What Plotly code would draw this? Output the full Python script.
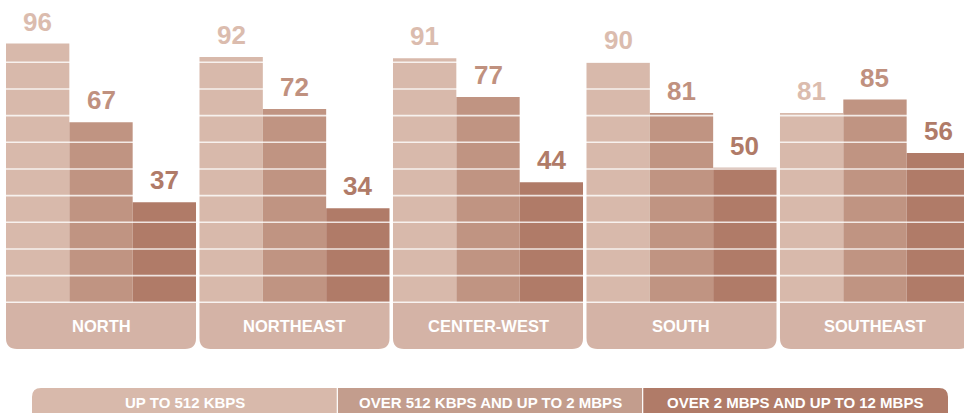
import plotly.graph_objects as go

# ---- data -------------------------------------------------------------
regions = ["NORTH", "NORTHEAST", "CENTER-WEST", "SOUTH", "SOUTHEAST"]
series_names = [
    "UP TO 512 KBPS",
    "OVER 512 KBPS AND UP TO 2 MBPS",
    "OVER 2 MBPS AND UP TO 12 MBPS",
]
# bar heights as drawn in the picture
up_to_512 = [97, 92, 91.5, 90, 71]
over_512_to_2m = [67.5, 72.5, 77, 71, 76]
over_2m_to_12m = [37.5, 35.3, 45, 50.5, 56]
# value labels as printed in the picture
up_to_512_labels = ["96", "92", "91", "90", "81"]
over_512_to_2m_labels = ["67", "72", "77", "81", "85"]
over_2m_to_12m_labels = ["37", "34", "44", "50", "56"]
grid_values = [0, 10, 20, 30, 40, 50, 60, 70, 80, 90]

# ---- style ------------------------------------------------------------
W, H = 964, 413
bar_colors = ["#d8b9ab", "#c09482", "#b07b68"]
label_colors = ["#dbbcae", "#c0917f", "#b07b68"]
legend_colors = ["#d8b9ab", "#c39d8d", "#b07b68"]
region_box_color = "#d4b3a6"
group_w = 0.982
n_series = 3
sub_w = group_w / n_series
x_range = [-0.522, 4.460]
y_range = [-41.5, 113.35]
region_box_depth = -17.5
px_x = W / (x_range[1] - x_range[0])   # pixels per x unit
px_y = H / (y_range[1] - y_range[0])   # pixels per y unit
corner_px = 11

series = [up_to_512, over_512_to_2m, over_2m_to_12m]
labels = [up_to_512_labels, over_512_to_2m_labels, over_2m_to_12m_labels]
xs = list(range(len(regions)))

fig = go.Figure()
annotations = []
shapes = []

# region label boxes: square top, rounded bottom corners
rx, ry = corner_px / px_x, corner_px / px_y
for x, name in zip(xs, regions):
    x0, x1 = x - group_w / 2, x + group_w / 2
    y0, y1 = region_box_depth, 0
    path = (f"M{x0},{y1} L{x0},{y0+ry} Q{x0},{y0} {x0+rx},{y0} "
            f"L{x1-rx},{y0} Q{x1},{y0} {x1},{y0+ry} L{x1},{y1} Z")
    shapes.append(dict(type="path", xref="x", yref="y", path=path,
                       fillcolor=region_box_color, line=dict(width=0), layer="below"))
    annotations.append(dict(x=x, y=region_box_depth / 2, xref="x", yref="y", text=name,
                            showarrow=False, xanchor="center", yanchor="middle",
                            font=dict(family="Liberation Sans, Arial", size=16.5,
                                      color="white", weight="bold")))

for i, (vals, labs) in enumerate(zip(series, labels)):
    off = -group_w / 2 + i * sub_w
    fig.add_trace(go.Bar(
        x=xs, y=vals, width=sub_w, offset=off,
        marker=dict(color=bar_colors[i], line=dict(width=0)),
        name=series_names[i], showlegend=False,
    ))
    for x, v, t in zip(xs, vals, labs):
        annotations.append(dict(
            x=x + off + sub_w / 2, y=v, xref="x", yref="y", text=t, showarrow=False,
            xanchor="center", yanchor="bottom", yshift=5,
            font=dict(family="Liberation Sans, Arial", size=26, color=label_colors[i], weight="bold"),
        ))

# white gridlines drawn above bars
for g in grid_values:
    shapes.append(dict(type="line", xref="x", yref="y", x0=x_range[0], x1=x_range[1],
                       y0=g, y1=g, layer="above",
                       line=dict(color="rgba(255,255,255,0.8)", width=1.6)))

# custom legend boxes (paper coordinates)
leg_left, leg_right = 32 / W, 948 / W
leg_top = 1 - 388 / H
leg_bot = -0.05
seg = (leg_right - leg_left) / 3
lrx, lry = 9 / W, 9 / H
for i in range(3):
    x0 = leg_left + i * seg
    x1 = x0 + seg
    if i == 0:
        path = (f"M{x0},{leg_bot} L{x0},{leg_top-lry} Q{x0},{leg_top} {x0+lrx},{leg_top} "
                f"L{x1},{leg_top} L{x1},{leg_bot} Z")
    elif i == 2:
        path = (f"M{x0},{leg_bot} L{x0},{leg_top} L{x1-lrx},{leg_top} Q{x1},{leg_top} {x1},{leg_top-lry} "
                f"L{x1},{leg_bot} Z")
    else:
        path = f"M{x0},{leg_bot} L{x0},{leg_top} L{x1},{leg_top} L{x1},{leg_bot} Z"
    shapes.append(dict(type="path", xref="paper", yref="paper", path=path,
                       fillcolor=legend_colors[i], line=dict(width=0), layer="above"))
    if i > 0:
        shapes.append(dict(type="line", xref="paper", yref="paper", x0=x0, x1=x0,
                           y0=leg_bot, y1=leg_top, line=dict(color="white", width=1.2), layer="above"))
    annotations.append(dict(xref="paper", yref="paper", x=(x0 + x1) / 2, y=1 - 402 / H,
                            text=series_names[i], showarrow=False, xanchor="center", yanchor="middle",
                            font=dict(family="Liberation Sans, Arial", size=15, color="white", weight="bold")))

fig.update_layout(
    width=W, height=H,
    margin=dict(l=0, r=0, t=0, b=0),
    paper_bgcolor="white", plot_bgcolor="white",
    barmode="overlay",
    xaxis=dict(range=x_range, visible=False, fixedrange=True),
    yaxis=dict(range=y_range, visible=False, fixedrange=True),
    shapes=shapes, annotations=annotations,
)

fig.write_html("out.html", config={"displayModeBar": False},
               post_script="document.body.style.margin='0';document.body.style.overflow='hidden';")
